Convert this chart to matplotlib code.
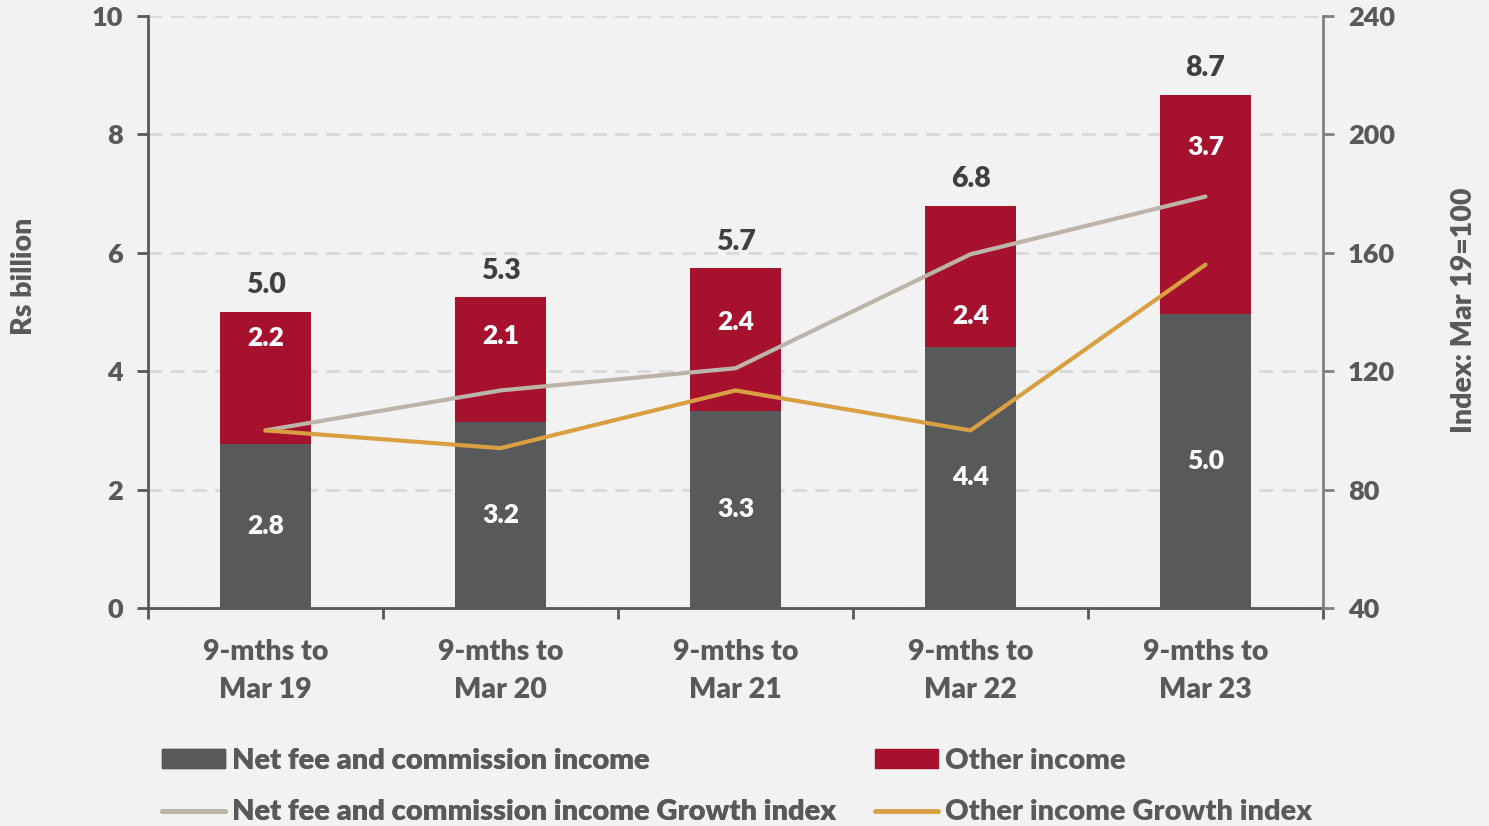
import matplotlib
matplotlib.use("Agg")
import matplotlib.pyplot as plt
from matplotlib.lines import Line2D
from matplotlib.patches import Patch

categories = ["9-mths to\nMar 19", "9-mths to\nMar 20", "9-mths to\nMar 21", "9-mths to\nMar 22", "9-mths to\nMar 23"]
net_fee = [2.77, 3.14, 3.33, 4.41, 4.97]
other_income = [2.23, 2.11, 2.41, 2.38, 3.70]
net_fee_labels = ["2.8", "3.2", "3.3", "4.4", "5.0"]
other_labels = ["2.2", "2.1", "2.4", "2.4", "3.7"]
total_labels = ["5.0", "5.3", "5.7", "6.8", "8.7"]
net_fee_index = [100, 113.5, 121, 159.5, 179]
other_index = [100, 94, 113.5, 100, 156]
left_ticks = [0, 2, 4, 6, 8, 10]
right_ticks = [40, 80, 120, 160, 200, 240]

# label placement within the red segment (fraction of segment height)
other_label_frac = [0.80, 0.69, 0.62, 0.22, 0.76]

plt.rcParams['font.family'] = ['Lato', 'DejaVu Sans']

W = 'heavy'
BG = '#f2f2f2'
TXT = '#595959'
C_DARK = '#58595b'
C_RED = '#a6112d'
C_GRAY = '#bdb4a9'
C_ORANGE = '#d9a043'

fig = plt.figure(figsize=(14.89, 8.26), dpi=100, facecolor=BG)
ax = fig.add_axes([148/1489, 1-608/826, (1323-148)/1489, (608-16)/826])
ax.set_facecolor(BG)
ax2 = ax.twinx()

x = list(range(len(categories)))
w = 0.39
ax.bar(x, net_fee, width=w, color=C_DARK, zorder=2)
ax.bar(x, other_income, width=w, bottom=net_fee, color=C_RED, zorder=2)

for i in x:
    ax.text(i, net_fee[i] * 0.5, net_fee_labels[i], ha='center', va='center',
            color='white', fontsize=19, fontweight=W, zorder=5)
    ax.text(i, net_fee[i] + other_income[i] * other_label_frac[i], other_labels[i],
            ha='center', va='center', color='white', fontsize=19, fontweight=W, zorder=5)
    ax.text(i, net_fee[i] + other_income[i] + 0.45, total_labels[i], ha='center',
            va='center', color='#404040', fontsize=20.5, fontweight=W, zorder=5)

ax.set_ylim(0, 10)
ax.set_xlim(-0.5, 4.5)
ax.set_yticks(left_ticks)
ax.yaxis.grid(True, color='#d9d9d9', linestyle=(0, (5, 3)), linewidth=2)
ax.set_axisbelow(True)
ax.set_xticks(x)
ax.set_xticklabels(categories, fontsize=20.5, fontweight=W, color=TXT, linespacing=1.6)
ax.tick_params(axis='x', length=0, pad=22)
ax.set_xticks([-0.5, 0.5, 1.5, 2.5, 3.5, 4.5], minor=True)
ax.tick_params(axis='x', which='minor', length=8, width=2, color=TXT)
ax.tick_params(axis='y', length=8, width=2, color=TXT, labelsize=19.5, labelcolor=TXT, pad=10)
for t in ax.get_yticklabels():
    t.set_fontweight(W)
for s in ['top', 'right']:
    ax.spines[s].set_visible(False)
ax.spines['left'].set_color(TXT)
ax.spines['left'].set_linewidth(2)
ax.spines['bottom'].set_color(TXT)
ax.spines['bottom'].set_linewidth(2)

ax2.plot(x, net_fee_index, color=C_GRAY, linewidth=3, solid_capstyle='round', zorder=3)
ax2.plot(x, other_index, color=C_ORANGE, linewidth=3, solid_capstyle='round', zorder=3)
ax2.set_ylim(40, 240)
ax2.set_yticks(right_ticks)
ax2.tick_params(axis='y', length=8, width=2, color='#808080', labelsize=19.5, labelcolor=TXT, pad=10)
for t in ax2.get_yticklabels():
    t.set_fontweight(W)
for s in ['top', 'left', 'bottom']:
    ax2.spines[s].set_visible(False)
ax2.spines['right'].set_color('#808080')
ax2.spines['right'].set_linewidth(2)

fig.text(24/1489, 1-276/826, 'Rs billion', rotation=90, ha='center', va='center',
         fontsize=20.5, fontweight=W, color=TXT)
fig.text(1464/1489, 1-310/826, 'Index: Mar 19=100', rotation=90, ha='center', va='center',
         fontsize=20.5, fontweight=W, color=TXT)

handles = [Patch(color=C_DARK), Patch(color=C_RED),
           Line2D([], [], color=C_GRAY, linewidth=3.5, solid_capstyle='round'),
           Line2D([], [], color=C_ORANGE, linewidth=3.5, solid_capstyle='round')]
labels = ["Net fee and commission income", "Other income",
          "Net fee and commission income Growth index", "Other income Growth index"]

def make_leg(hs, ls, xpix):
    leg = fig.legend(hs, ls, ncol=1, loc='center left',
                     bbox_to_anchor=(xpix/1489, 1-786.5/826),
                     frameon=False, fontsize=21, labelcolor=TXT,
                     handlelength=2.15, handleheight=0.6, handletextpad=0.25,
                     labelspacing=0.88, borderaxespad=0, borderpad=0)
    for t in leg.get_texts():
        t.set_fontweight(W)
    return leg

l1 = make_leg([handles[0], handles[2]], [labels[0], labels[2]], 162)
fig.add_artist(l1)
make_leg([handles[1], handles[3]], [labels[1], labels[3]], 875)

fig.savefig('out.png', dpi=100, facecolor=BG)
